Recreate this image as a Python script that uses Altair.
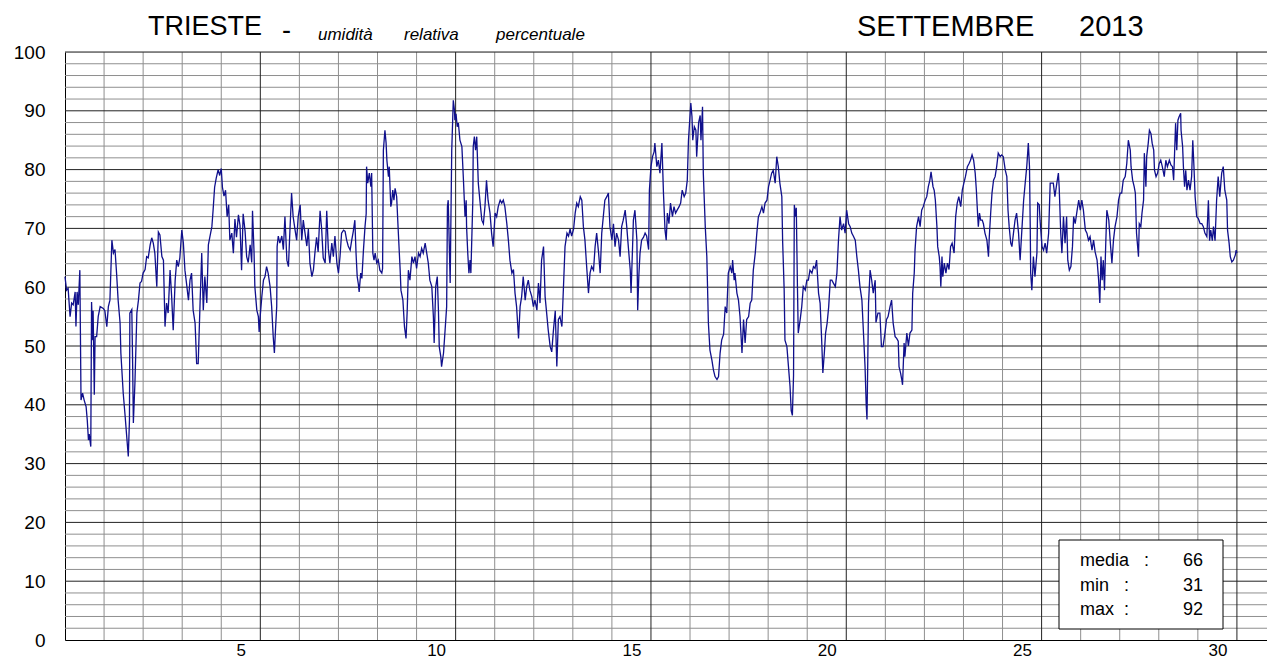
import altair as alt
import pandas as pd

# ---- data: relative humidity (%); time in days since 1 Sep 00:00
days = [
 0.00,0.04,0.08,0.13,0.17,0.21,0.26,0.28,0.31,0.34,0.38,0.41,0.45,0.49,0.54,0.57,0.60,0.62,0.66,0.68,0.71,0.72,0.75,0.77,0.81,0.85,0.90,0.98,
 1.02,1.07,1.11,1.15,1.20,1.24,1.28,1.32,1.36,1.41,1.43,1.46,1.49,1.54,1.58,1.62,1.65,1.66,1.71,1.73,1.75,1.79,1.84,1.88,1.92,1.96,
 2.00,2.05,2.09,2.13,2.18,2.22,2.26,2.30,2.35,2.39,2.43,2.48,2.52,2.56,2.60,2.64,2.69,2.73,2.77,2.82,2.86,2.90,2.94,2.99,
 3.03,3.07,3.11,3.16,3.20,3.24,3.28,3.33,3.37,3.41,3.46,3.50,3.54,3.58,3.63,3.67,3.71,3.76,3.79,3.83,3.87,3.92,3.96,
 4.00,4.03,4.07,4.11,4.15,4.19,4.22,4.27,4.31,4.35,4.39,4.44,4.48,4.52,4.56,4.61,4.65,4.69,4.74,4.78,4.80,4.84,4.86,4.91,4.95,4.97,4.99,
 5.04,5.08,5.12,5.16,5.20,5.25,5.29,5.33,5.36,5.39,5.42,5.43,5.46,5.50,5.55,5.59,5.63,5.68,5.72,5.76,5.80,5.84,5.89,5.93,5.97,
 6.02,6.06,6.10,6.14,6.19,6.23,6.27,6.32,6.36,6.40,6.44,6.48,6.53,6.57,6.61,6.66,6.70,6.74,6.78,6.83,6.87,6.91,6.96,
 7.00,7.04,7.08,7.13,7.17,7.21,7.25,7.30,7.34,7.38,7.42,7.45,7.48,7.51,7.53,7.57,7.60,7.64,7.68,7.71,7.72,7.75,7.79,7.83,7.85,7.88,7.91,7.94,7.98,
 8.02,8.06,8.11,8.13,8.15,8.19,8.22,8.24,8.28,8.30,8.34,8.36,8.39,8.42,8.45,8.49,8.53,8.58,8.60,8.65,8.69,8.73,8.76,8.79,8.83,8.88,8.92,8.96,
 9.00,9.05,9.09,9.13,9.17,9.22,9.26,9.30,9.34,9.39,9.43,9.45,9.49,9.53,9.56,9.58,9.62,9.64,9.69,9.73,9.77,9.79,9.81,9.84,9.86,9.90,9.94,9.97,9.98,
 10.01,10.04,10.07,10.11,10.16,10.20,10.24,10.27,10.28,10.31,10.34,10.37,10.39,10.44,10.45,10.48,10.51,10.54,10.58,10.62,10.67,10.71,10.75,10.79,10.83,10.88,10.92,10.96,
 11.01,11.05,11.09,11.14,11.18,11.22,11.26,11.31,11.35,11.39,11.44,11.48,11.52,11.56,11.61,11.65,11.69,11.73,11.78,11.82,11.86,11.90,11.95,11.99,
 12.03,12.08,12.12,12.16,12.20,12.25,12.29,12.33,12.37,12.42,12.46,12.50,12.55,12.59,12.63,12.67,12.72,12.76,12.80,12.85,12.89,12.93,12.97,
 13.02,13.06,13.10,13.14,13.19,13.23,13.27,13.31,13.36,13.40,13.44,13.48,13.53,13.57,13.61,13.66,13.70,13.74,13.78,13.82,13.87,13.91,13.95,
 14.00,14.04,14.08,14.12,14.17,14.21,14.25,14.29,14.34,14.38,14.42,14.47,14.49,14.53,14.55,14.59,14.64,14.66,14.69,14.72,14.76,14.81,14.85,14.89,14.94,14.96,
 15.00,15.04,15.08,15.10,15.15,15.19,15.23,15.28,15.32,15.36,15.39,15.42,15.46,15.50,15.55,15.59,15.63,15.67,15.72,15.76,15.80,15.85,15.89,15.93,15.96,
 16.02,16.05,16.07,16.11,16.15,16.17,16.22,16.26,16.28,16.32,16.34,16.39,16.43,16.47,16.51,16.56,16.60,16.64,16.69,16.73,16.77,16.81,16.86,16.90,16.94,16.98,
 17.03,17.07,17.09,17.13,17.15,17.20,17.24,17.28,17.33,17.37,17.41,17.45,17.50,17.54,17.58,17.62,17.67,17.71,17.75,17.79,17.84,17.88,17.92,17.97,
 18.01,18.05,18.09,18.13,18.18,18.22,18.26,18.30,18.35,18.37,18.41,18.43,18.48,18.52,18.56,18.59,18.62,18.65,18.67,18.70,18.72,18.75,18.77,18.82,18.86,18.90,18.95,18.99,
 19.03,19.07,19.12,19.16,19.20,19.24,19.29,19.33,19.37,19.40,19.44,19.47,19.51,19.55,19.59,19.63,19.67,19.72,19.76,19.80,19.84,19.88,19.93,19.97,
 20.01,20.06,20.10,20.14,20.18,20.23,20.27,20.31,20.35,20.40,20.44,20.48,20.51,20.53,20.57,20.61,20.65,20.69,20.74,20.76,20.81,20.86,20.90,20.94,20.99,
 21.03,21.07,21.12,21.16,21.20,21.25,21.29,21.33,21.35,21.39,21.42,21.44,21.48,21.50,21.55,21.59,21.63,21.68,21.70,21.74,21.76,21.80,21.85,21.89,21.93,21.97,
 22.02,22.06,22.10,22.14,22.17,22.22,22.25,22.28,22.32,22.34,22.38,22.40,22.42,22.45,22.47,22.51,22.55,22.59,22.63,22.67,22.71,22.76,22.80,22.84,22.88,22.93,22.97,
 23.01,23.05,23.10,23.14,23.18,23.22,23.26,23.30,23.33,23.36,23.38,23.41,23.44,23.48,23.51,23.55,23.60,23.64,23.66,23.70,23.73,23.77,23.81,23.85,23.89,23.94,23.98,
 24.02,24.07,24.11,24.14,24.17,24.21,24.24,24.28,24.32,24.36,24.41,24.45,24.49,24.54,24.58,24.62,24.66,24.69,24.71,24.72,24.75,24.79,24.83,24.88,24.90,24.94,24.96,
 25.01,25.05,25.09,25.13,25.18,25.22,25.26,25.30,25.34,25.39,25.43,25.45,25.49,25.52,25.56,25.60,25.64,25.67,25.71,25.75,25.79,25.82,25.86,25.91,25.95,25.99,
 26.03,26.07,26.12,26.16,26.20,26.24,26.29,26.33,26.37,26.42,26.46,26.49,26.52,26.55,26.58,26.61,26.64,26.67,26.72,26.76,26.80,26.84,26.88,26.93,26.97,
 27.01,27.05,27.09,27.14,27.18,27.22,27.27,27.29,27.33,27.37,27.40,27.43,27.48,27.50,27.54,27.57,27.61,27.63,27.67,27.69,27.73,27.76,27.80,27.83,27.87,27.89,27.93,27.97,
 28.01,28.05,28.09,28.14,28.18,28.22,28.27,28.31,28.35,28.38,28.40,28.43,28.46,28.49,28.52,28.56,28.57,28.61,28.63,28.66,28.69,28.72,28.76,28.80,28.84,28.87,28.90,28.93,28.97,
 29.01,29.06,29.10,29.14,29.18,29.23,29.27,29.30,29.33,29.37,29.40,29.44,29.48,29.52,29.56,29.61,29.65,29.69,29.74,29.76,29.80,29.83,29.87,29.91,29.96,29.98,
 30.00,
]
rh = [
 61.8,59.5,59.8,55.0,57.3,57.0,59.2,53.3,59.2,57.0,62.9,40.8,42.0,40.8,39.7,37.4,34.0,35.0,32.9,57.5,51.0,56.0,41.7,51.6,51.6,55.0,56.7,56.4,
 56.0,53.3,56.7,57.8,68.0,65.8,66.4,62.4,57.8,53.9,48.8,45.4,42.0,38.0,34.6,31.2,37.4,55.6,56.2,47.6,36.9,43.7,55.6,57.8,60.7,61.0,
 62.4,63.0,65.2,65.0,67.2,68.4,67.5,65.8,60.1,69.4,68.9,65.2,64.6,53.3,57.3,55.6,62.9,58.4,52.7,61.2,64.6,63.5,65.0,69.7,
 67.5,62.9,60.7,57.8,61.2,62.4,56.1,53.9,47.0,47.0,57.8,65.8,56.1,61.8,57.3,67.2,68.6,70.3,73.0,77.0,78.5,80.0,79.0,
 80.2,77.0,75.5,76.5,72.0,74.0,68.0,69.2,65.8,71.6,68.5,72.3,70.5,62.9,72.5,69.5,65.2,64.2,67.2,64.2,73.0,65.8,60.1,56.1,55.0,52.4,54.5,
 58.5,61.2,61.8,63.5,62.4,60.1,56.7,51.6,48.8,53.0,56.7,66.9,68.7,67.5,68.7,66.4,72.0,64.6,63.5,70.0,76.0,72.0,69.7,68.0,72.0,
 74.0,68.0,71.4,69.4,67.0,69.9,64.1,61.8,63.0,66.0,68.5,66.0,73.0,69.9,65.0,64.1,73.0,66.6,64.1,67.5,65.2,68.7,64.1,
 62.4,65.2,69.2,69.7,69.5,68.0,67.0,66.3,68.0,69.5,71.4,65.8,61.8,60.5,59.2,62.4,61.5,66.3,70.3,72.5,80.5,77.7,79.4,77.1,79.4,65.8,64.6,65.8,64.1,
 64.6,62.9,62.4,63.2,83.3,86.7,84.5,81.6,78.8,80.5,73.7,74.3,76.5,74.8,76.8,75.4,69.7,62.9,59.5,57.8,53.3,51.3,56.0,62.9,61.2,65.2,64.1,65.2,
 63.2,65.8,65.2,66.6,65.8,67.5,65.8,64.1,61.2,60.1,55.0,50.5,60.1,61.8,56.0,49.9,48.2,46.5,48.8,52.7,56.7,73.7,74.8,66.3,60.7,83.3,91.8,90.1,88.4,
 89.5,87.3,87.9,85.0,83.9,78.2,72.0,74.8,70.3,65.8,62.4,64.6,62.4,74.8,83.9,85.6,83.3,85.6,77.7,74.8,71.4,70.8,73.7,78.2,74.8,72.6,69.2,66.9,
 72.6,72.0,73.7,74.8,74.3,74.8,73.7,70.8,68.0,64.6,62.4,63.0,59.0,56.7,51.3,56.7,58.4,61.8,57.8,60.1,61.2,59.5,58.4,56.7,
 57.8,56.1,60.7,57.3,64.6,66.9,58.4,55.6,52.7,49.9,49.0,52.4,56.0,46.5,54.5,55.0,53.3,60.0,66.9,69.2,68.7,69.9,68.7,
 69.9,72.6,74.3,73.7,75.4,74.8,70.3,68.0,62.9,59.0,62.4,63.5,62.9,66.9,69.2,65.8,62.4,69.2,72.0,74.8,75.4,76.0,70.3,
 68.0,70.8,66.9,69.2,68.0,65.2,70.3,71.4,73.1,70.3,66.9,62.9,59.0,67.0,71.4,73.1,68.0,56.1,62.0,65.8,68.0,68.5,69.2,68.7,66.4,76.5,
 80.5,82.2,83.0,84.5,80.5,81.6,79.4,84.5,76.0,69.7,68.0,72.6,70.8,74.3,72.0,73.7,72.6,73.1,73.7,74.3,76.5,75.4,76.0,78.2,85.0,
 91.3,89.0,85.0,87.3,86.7,82.2,88.0,89.2,85.0,90.7,79.4,70.3,65.2,53.9,49.3,47.6,45.9,44.8,44.3,44.8,48.8,51.0,52.0,56.7,55.6,62.4,
 63.5,62.4,64.6,61.2,62.4,59.0,57.8,55.0,48.8,54.5,50.5,54.5,55.0,57.3,57.8,62.9,65.8,69.2,72.0,72.6,73.7,72.6,74.3,74.8,
 77.1,78.2,79.4,79.9,77.7,82.2,80.5,77.7,75.4,68.0,59.5,51.0,49.9,46.5,43.1,39.0,38.2,45.0,74.0,72.0,73.5,60.0,52.2,54.5,56.7,60.1,59.5,61.2,
 61.2,62.9,62.4,63.5,63.2,64.6,59.0,57.3,51.0,45.4,49.0,52.2,53.9,56.7,61.2,61.2,60.7,60.1,62.4,68.0,72.0,69.7,70.8,69.2,
 73.1,70.8,70.3,69.2,68.7,68.0,65.2,62.9,60.1,57.8,52.2,46.5,40.0,37.5,57.3,62.9,61.2,59.0,61.2,54.0,55.6,55.6,49.9,49.9,52.2,
 54.5,55.0,56.7,57.8,53.9,51.6,51.3,50.8,46.5,45.4,44.3,43.4,50.5,48.2,52.2,50.0,52.2,52.7,59.0,62.4,66.3,70.3,72.0,70.3,73.1,73.7,
 74.8,75.4,77.1,78.2,79.6,77.1,76.5,74.8,70.3,66.9,65.2,63.5,60.1,65.2,61.8,64.1,62.4,64.1,63.0,66.9,67.5,65.8,72.0,74.3,75.4,73.7,76.5,
 77.7,78.8,80.5,81.0,81.6,82.5,81.6,79.4,76.5,72.6,70.3,72.6,71.4,71.4,70.8,69.2,68.0,65.2,68.5,73.0,76.0,78.2,78.8,80.5,82.8,82.2,82.5,
 82.2,79.9,78.8,73.1,70.3,67.5,66.9,69.2,71.4,72.6,69.2,64.6,69.2,74.8,77.7,80.5,84.5,80.5,69.7,62.4,59.5,65.2,61.8,65.8,74.3,74.0,71.4,
 66.9,66.3,67.5,65.8,69.2,77.7,77.7,77.7,75.4,77.7,79.4,77.0,69.2,65.8,72.0,67.5,72.0,64.6,62.9,63.5,66.9,72.0,70.8,73.1,74.8,73.1,
 74.8,73.1,69.7,69.2,68.0,68.6,66.3,68.0,66.0,64.6,61.2,57.3,65.2,61.2,64.6,59.5,67.0,73.1,71.4,67.5,64.1,68.0,70.3,72.0,74.8,
 76.0,76.0,78.2,78.8,81.0,85.0,83.3,80.5,78.2,77.1,76.0,69.2,65.2,70.8,70.3,72.6,74.8,82.8,77.1,82.2,84.5,86.7,86.1,84.5,83.3,79.9,78.8,79.4,
 81.0,81.6,80.5,78.8,81.6,80.5,81.6,80.8,80.5,78.2,82.0,87.9,83.3,88.4,89.0,89.6,86.7,83.9,80.5,77.1,79.9,76.5,78.2,76.5,78.8,85.0,80.5,75.4,72.0,
 71.7,70.8,70.8,70.3,69.2,68.6,74.8,67.9,69.7,67.9,70.3,67.9,74.8,78.8,75.4,79.4,80.5,76.5,74.8,69.7,67.5,65.2,64.3,64.6,65.5,66.3,
 65.8,
]

# ---- grid positions
minor_days = [d for d in range(1, 31) if d % 5]
major_days = [5, 10, 15, 20, 25, 30]
minor_levels = [v for v in range(2, 100, 2) if v % 10]
major_levels = [10, 20, 30, 40, 50, 60, 70, 80, 90, 100]
y_ticks = [0, 10, 20, 30, 40, 50, 60, 70, 80, 90, 100]
x_label_days = [5, 10, 15, 20, 25, 30]

# ---- texts
title_place = "TRIESTE"
title_dash = "-"
title_words = ["umidità", "relativa", "percentuale"]
title_month = "SETTEMBRE"
title_year = "2013"
stat_names = ["media\u00a0\u00a0\u00a0:", "min\u00a0\u00a0\u00a0:", "max\u00a0\u00a0:"]
stat_values = ["66", "31", "92"]

FONT = "Liberation Sans"
n = min(len(days), len(rh))
df = pd.DataFrame({"day": days[:n], "rh": rh[:n]})

xs = alt.Scale(domain=[0, 30.77], nice=False, zero=False)
ys = alt.Scale(domain=[0, 100], nice=False, zero=False)

x_axis = alt.Axis(
    values=[d - 0.5 for d in x_label_days],
    labelExpr="format(datum.value + 0.5, 'd')",
    ticks=False, grid=False, title=None, domainColor="black", domainWidth=1,
    labelFontSize=17, labelFont=FONT, labelColor="black", labelPadding=2,
    labelFlush=False, labelOverlap=False,
)
y_axis = alt.Axis(
    values=y_ticks, ticks=False, grid=False, title=None, domainColor="black",
    domainWidth=1, labelFontSize=19, labelFont=FONT, labelColor="black",
    labelPadding=20, labelFlush=False, labelOverlap=False,
)

def vrules(vals, color, width):
    return alt.Chart(pd.DataFrame({"day": vals})).mark_rule(
        color=color, strokeWidth=width).encode(
        x=alt.X("day:Q", scale=xs, axis=x_axis))

def hrules(vals, color, width):
    return alt.Chart(pd.DataFrame({"rh": vals})).mark_rule(
        color=color, strokeWidth=width).encode(
        y=alt.Y("rh:Q", scale=ys, axis=y_axis))

def label(txt, x, y, size, align="left", style="normal"):
    return alt.Chart(pd.DataFrame({"t": [txt]})).mark_text(
        align=align, baseline="alphabetic", fontSize=size, fontStyle=style,
        font=FONT, color="black").encode(
        x=alt.value(x), y=alt.value(y), text="t:N")

minor_h = hrules(minor_levels, "#8f8f8f", 1)
minor_v = vrules(minor_days, "#8f8f8f", 1)
major_h = hrules(major_levels, "#222222", 1)
major_v = vrules(major_days, "#222222", 1)

line = alt.Chart(df).mark_line(color="#10108c", strokeWidth=1.3).encode(
    x=alt.X("day:Q", scale=xs, axis=x_axis),
    y=alt.Y("rh:Q", scale=ys, axis=y_axis),
)

box = alt.Chart(pd.DataFrame({"k": [0]})).mark_rect(
    fill="white", stroke="black", strokeWidth=1).encode(
    x=alt.value(994), x2=alt.value(1158), y=alt.value(488), y2=alt.value(577))

texts = [
    label(title_place, 83, -17, 27),
    label(title_dash, 217, -13, 27),
    label(title_month, 792, -16, 29),
    label(title_year, 1014, -16, 29),
]
for w, wx in zip(title_words, [253, 339, 431]):
    texts.append(label(w, wx, -12, 17, style="italic"))
for i, (nm, val) in enumerate(zip(stat_names, stat_values)):
    texts.append(label(nm, 1015, 514 + 24.7 * i, 18))
    texts.append(label(val, 1138, 514 + 24.7 * i, 18, align="right"))

chart = alt.layer(minor_h, minor_v, major_h, major_v, line, box, *texts).properties(
    width=1202, height=588,
    padding={"left": 57, "top": 44, "right": 0, "bottom": 20},
    autosize=alt.AutoSizeParams(type="none"),
).configure_view(stroke=None).configure(font=FONT, background="white")

chart.save("out.html", embed_options={"renderer": "svg", "actions": False})
